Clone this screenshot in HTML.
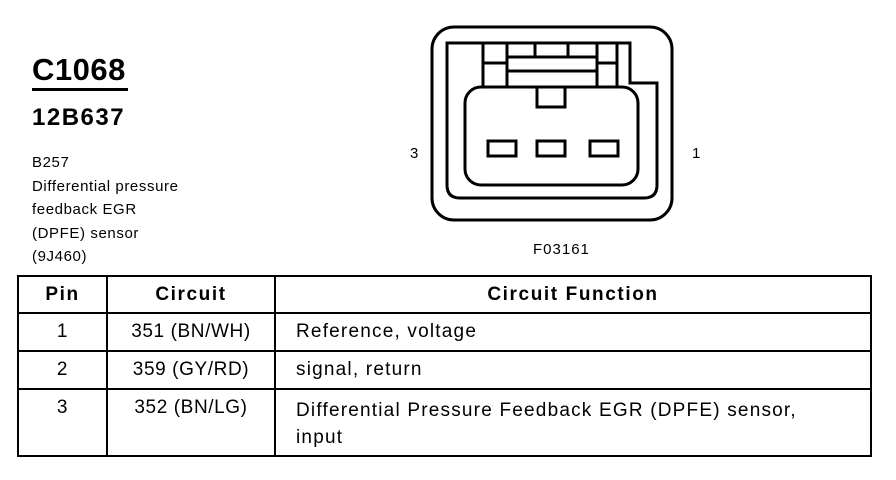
<!DOCTYPE html>
<html><head><style>
body{margin:0;width:896px;height:480px;background:#fff;position:relative;font-family:"Liberation Sans",Arial,sans-serif;color:#000;overflow:hidden}
.a{position:absolute;white-space:nowrap}
table{position:absolute;left:17px;top:275px;border-collapse:collapse;width:855px}
td{border:2.5px solid #000;font-size:19px;padding:0;vertical-align:top;letter-spacing:0.6px;white-space:nowrap}
td.f{letter-spacing:1.2px;padding-left:20px}
tr.h td{font-weight:bold;letter-spacing:1.6px;text-align:center;vertical-align:middle}
</style></head><body>
<div class="a" style="left:32px;top:52px;font-size:31px;font-weight:bold;letter-spacing:0.5px">C1068</div>
<div style="position:absolute;left:32px;top:88px;width:96px;height:3px;background:#000"></div>
<div class="a" style="left:32px;top:104px;font-size:24px;font-weight:bold;letter-spacing:1.5px">12B637</div>
<div class="a" style="left:32px;top:151px;font-size:15px;line-height:23.5px;letter-spacing:0.6px">B257<br>Differential pressure<br>feedback EGR<br>(DPFE) sensor<br>(9J460)</div>
<div class="a" style="left:410px;top:145px;font-size:15px">3</div>
<div class="a" style="left:692px;top:145px;font-size:15px">1</div>
<div class="a" style="left:533px;top:241px;font-size:15px;letter-spacing:1px">F03161</div>
<svg style="position:absolute;left:0;top:0" width="896" height="480">
<g fill="none" stroke="#000" stroke-width="3">
<rect x="432" y="27" width="240" height="193" rx="22"/>
<path d="M447 43 H630 V83 H657 V185 Q657 198 644 198 H460 Q447 198 447 185 Z"/>
<rect x="483" y="43" width="134" height="44"/>
<line x1="507" y1="43" x2="507" y2="87"/><line x1="597" y1="43" x2="597" y2="87"/>
<line x1="507" y1="57" x2="597" y2="57"/><line x1="507" y1="71" x2="597" y2="71"/>
<line x1="483" y1="63" x2="507" y2="63"/><line x1="597" y1="63" x2="617" y2="63"/>
<line x1="535" y1="43" x2="535" y2="57"/><line x1="568" y1="43" x2="568" y2="57"/>
<rect x="465" y="87" width="173" height="98" rx="16" fill="#fff"/>
<rect x="537" y="87" width="28" height="20" fill="#fff"/>
<rect x="488" y="141" width="28" height="15"/>
<rect x="537" y="141" width="28" height="15"/>
<rect x="590" y="141" width="28" height="15"/>
</g></svg>
<table>
<tr class="h" style="height:37px"><td style="width:87px">Pin</td><td style="width:166px">Circuit</td><td>Circuit Function</td></tr>
<tr style="height:38px"><td style="text-align:center;vertical-align:middle">1</td><td style="text-align:center;vertical-align:middle">351 (BN/WH)</td><td class="f" style="vertical-align:middle">Reference, voltage</td></tr>
<tr style="height:38px"><td style="text-align:center;vertical-align:middle">2</td><td style="text-align:center;vertical-align:middle">359 (GY/RD)</td><td class="f" style="vertical-align:middle">signal, return</td></tr>
<tr style="height:67px"><td style="text-align:center;padding-top:7px">3</td><td style="text-align:center;padding-top:7px">352 (BN/LG)</td><td class="f" style="padding-top:7px;line-height:27px">Differential Pressure Feedback EGR (DPFE) sensor,<br>input</td></tr>
</table>
</body></html>
